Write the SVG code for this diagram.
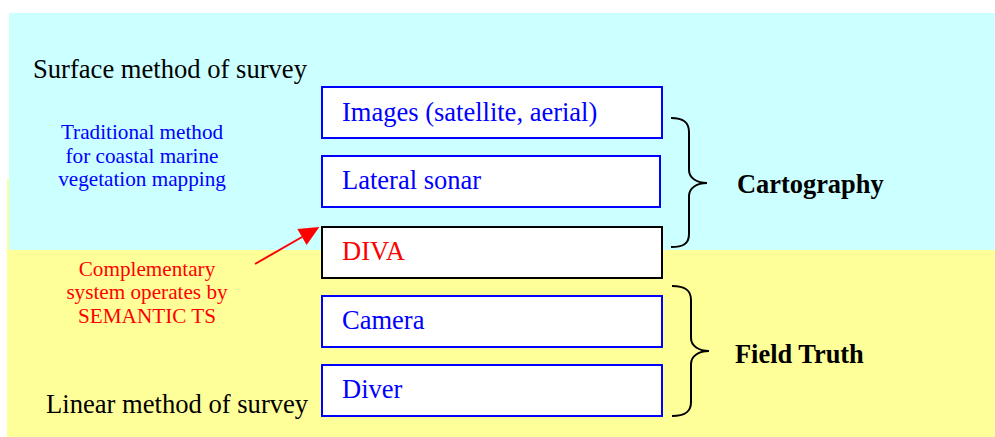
<svg xmlns="http://www.w3.org/2000/svg" width="995" height="437" viewBox="0 0 995 437">
  <style>
    .serif { font-family: "Liberation Serif", "Times New Roman", serif; }
    .box { fill: #FFFFFF; stroke: #0000FF; stroke-width: 2; }
    .box-dark { fill: #FFFFFF; stroke: #000000; stroke-width: 2; }
    .box-label { font-size: 26.5px; fill: #0000FF; }
    .side-label { font-size: 26.6px; fill: #000000; }
    .group-label { font-size: 26.4px; font-weight: bold; fill: #000000; }
    .note { font-size: 21.2px; text-anchor: middle; }
    .brace { fill: none; stroke: #000000; stroke-width: 2; }
  </style>
  <defs>
    <marker id="arrowhead" markerUnits="userSpaceOnUse" markerWidth="22" markerHeight="20" refX="0" refY="9.3" orient="auto" overflow="visible">
      <path d="M0,0 L20,9.3 L0,18.6 Z" fill="#FF0000"/>
    </marker>
  </defs>

  <!-- background bands -->
  <rect x="7" y="179" width="988" height="258" fill="#FFFF99"/>
  <rect x="9" y="13" width="986" height="237" fill="#CCFFFF"/>

  <!-- side captions -->
  <text class="serif side-label" x="33" y="78">Surface method of survey</text>
  <text class="serif side-label" x="46" y="413">Linear method of survey</text>

  <g id="traditional-note" class="serif note" fill="#0000FF">
    <text x="142" y="139">Traditional method</text>
    <text x="142" y="163">for coastal marine</text>
    <text x="142" y="186">vegetation mapping</text>
  </g>

  <g id="complementary-note" class="serif note" fill="#FF0000">
    <text x="147" y="276">Complementary</text>
    <text x="147" y="299">system operates by</text>
    <text x="147" y="323">SEMANTIC TS</text>
  </g>

  <!-- method boxes -->
  <g id="images">
    <rect class="box" x="322" y="87" width="340" height="51"/>
    <text class="serif box-label" x="342" y="121">Images (satellite, aerial)</text>
  </g>
  <g id="lateral-sonar">
    <rect class="box" x="322" y="156" width="338" height="51"/>
    <text class="serif box-label" x="342" y="189">Lateral sonar</text>
  </g>
  <g id="diva">
    <rect class="box-dark" x="322" y="227" width="340" height="51"/>
    <text class="serif box-label" x="342" y="260" style="fill:#FF0000">DIVA</text>
  </g>
  <g id="camera">
    <rect class="box" x="322" y="296" width="340" height="51"/>
    <text class="serif box-label" x="342" y="329">Camera</text>
  </g>
  <g id="diver">
    <rect class="box" x="322" y="365" width="340" height="51"/>
    <text class="serif box-label" x="342" y="398">Diver</text>
  </g>

  <!-- group braces and labels -->
  <g id="cartography">
    <path class="brace" d="M671,118 C683,118 689,122 689,132 L689,170 C689,178 697,183 707,183 C697,183 689,188 689,196 L689,234 C689,244 683,247 671,247"/>
    <text class="serif group-label" x="737" y="193">Cartography</text>
  </g>
  <g id="field-truth">
    <path class="brace" d="M672,286 C685,286 691,290 691,300 L691,338 C691,346 699,351 709,351 C699,351 691,356 691,364 L691,402 C691,412 685,416 672,416"/>
    <text class="serif group-label" x="735" y="363">Field Truth</text>
  </g>

  <!-- connectors -->
  <g id="connectors">
    <line x1="255" y1="264" x2="302" y2="237" stroke="#FF0000" stroke-width="2" marker-end="url(#arrowhead)"/>
  </g>
</svg>
